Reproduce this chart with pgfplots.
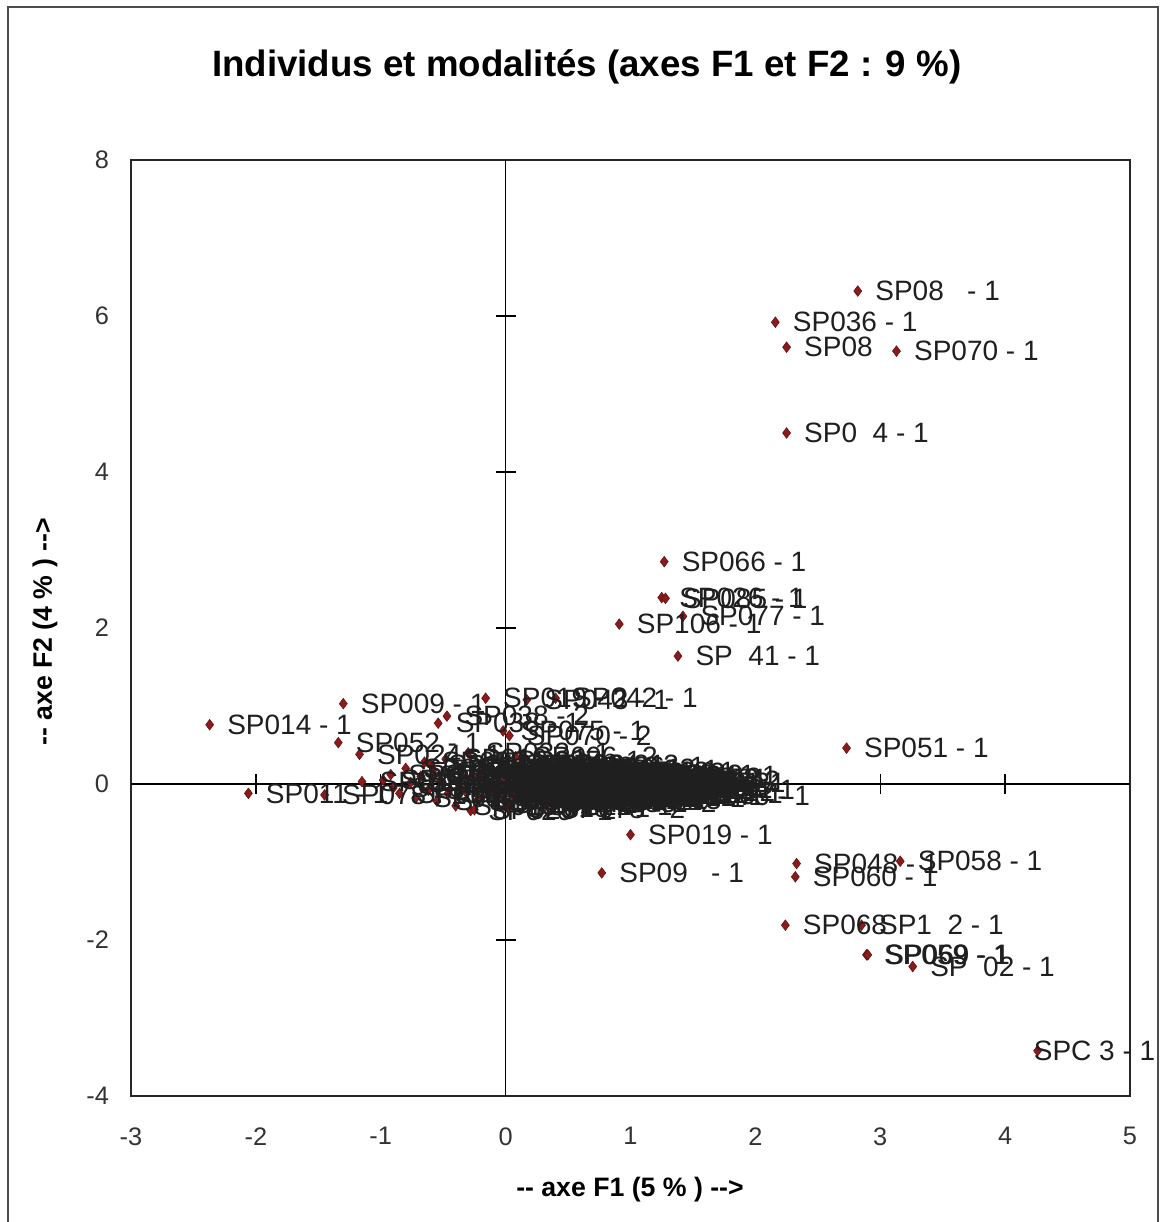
\documentclass[border=0pt]{standalone}
\usepackage{pgfplots}
\usepackage{pgfplotstable}
\pgfplotsset{compat=1.18}
\usepackage{fontspec}
\setmainfont{Liberation Sans}
\definecolor{mk}{RGB}{139,26,26}
\pgfplotstableread[col sep=comma]{
x,y,lab
-0.98,0.05,SP031 - 1
-0.92,0.12,SP027 - 1
-0.90,-0.05,SP044 - 1
-0.85,-0.12,SP061 - 1
-0.80,0.20,SP032 - 1
-0.76,0.02,SP088 - 1
-0.72,-0.18,SP056 - 1
-0.68,0.10,SP017 - 1
-0.65,0.28,SP039 - 1
-0.62,-0.08,SP047 - 1
-0.58,0.18,SP090 - 1
-0.55,-0.22,SP023 - 1
-0.52,0.05,SP064 - 1
-0.48,0.32,SP010 - 1
-0.46,-0.12,SP072 - 1
-0.42,0.15,SP081 - 1
-0.40,-0.28,SP025 - 1
-0.38,0.02,SP097 - 1
-0.35,0.22,SP012 - 1
-0.32,-0.10,SP063 - 1
-0.30,0.40,SP033 - 1
-0.28,-0.34,SP020 - 1
-0.26,0.08,SP079 - 1
-0.22,-0.20,SP104 - 1
-0.20,0.18,SP045 - 1
-0.15,0.02,SP054 - 1
-0.12,-0.08,SP091 - 1
-0.10,0.12,SP016 - 1
-0.08,-0.25,SP107 - 1
-0.05,0.30,SP037 - 1
-0.03,-0.12,SP062 - 1
0.00,0.05,SP083 - 1
0.02,-0.30,SP018 - 1
0.05,0.18,SP049 - 1
0.07,-0.05,SP100 - 1
0.10,0.08,SP015 - 1
0.12,-0.18,SP073 - 1
0.14,0.25,SP096 - 1
0.16,-0.02,SP030 - 1
0.18,0.12,SP087 - 1
0.20,-0.28,SP022 - 1
0.22,0.04,SP057 - 1
0.25,-0.10,SP093 - 1
0.27,0.20,SP035 - 1
0.29,-0.15,SP067 - 1
0.31,0.00,SP001 - 1
0.33,0.10,SP050 - 1
0.35,-0.22,SP098 - 1
0.37,0.15,SP021 - 1
0.40,-0.05,SP074 - 1
0.42,0.06,SP002 - 1
0.44,-0.12,SP055 - 1
0.46,0.22,SP086 - 1
0.48,-0.20,SP028 - 1
0.50,0.02,SP065 - 1
0.52,0.12,SP003 - 1
0.54,-0.08,SP089 - 1
0.57,0.18,SP040 - 1
0.59,-0.16,SP080 - 1
0.61,0.05,SP004 - 1
0.63,-0.02,SP053 - 1
0.66,0.10,SP094 - 1
0.68,-0.12,SP005 - 1
0.70,0.15,SP046 - 1
0.72,-0.06,SP082 - 1
0.75,0.04,SP006 - 1
0.78,-0.18,SP071 - 1
0.80,0.08,SP007 - 1
0.83,-0.04,SP099 - 1
0.86,0.12,SP008 - 1
0.88,-0.10,SP034 - 1
0.90,0.02,SP101 - 1
0.93,-0.15,SP109 - 1
0.96,0.06,SP103 - 1
1.00,-0.06,SP105 - 1
1.04,0.10,SP084 - 1
1.08,-0.12,SP108 - 1
1.12,0.02,SP110 - 1
1.18,-0.08,SP092 - 1
1.30,-0.15,SP076 - 1
-0.60,0.25,SP013 - 1
-0.25,-0.33,SP026 - 2
0.30,-0.32,SP078 - 2
0.03,0.10,SP001 - 2
0.06,-0.14,SP002 - 2
0.09,0.22,SP003 - 2
0.11,-0.02,SP004 - 2
0.13,0.06,SP005 - 2
0.15,-0.22,SP006 - 2
0.19,0.16,SP007 - 2
0.21,-0.08,SP008 - 2
0.23,0.10,SP010 - 2
0.24,-0.18,SP012 - 2
0.26,0.02,SP015 - 2
0.28,0.14,SP016 - 2
0.30,-0.06,SP017 - 2
0.32,-0.24,SP018 - 2
0.34,0.04,SP020 - 2
0.36,-0.14,SP021 - 2
0.38,0.20,SP022 - 2
0.39,-0.02,SP023 - 2
0.41,-0.18,SP025 - 2
0.43,0.12,SP027 - 2
0.45,0.00,SP028 - 2
0.47,-0.08,SP029 - 2
0.49,0.16,SP030 - 2
0.51,-0.14,SP031 - 2
0.53,0.06,SP032 - 2
0.55,-0.24,SP033 - 2
0.56,0.00,SP034 - 2
0.58,0.10,SP035 - 2
0.60,-0.06,SP037 - 2
0.62,0.14,SP039 - 2
0.64,-0.14,SP040 - 2
0.65,0.04,SP044 - 2
0.67,-0.04,SP045 - 2
0.69,0.08,SP046 - 2
0.71,-0.16,SP047 - 2
0.73,0.00,SP049 - 2
0.76,0.12,SP050 - 2
0.77,-0.08,SP053 - 2
0.79,0.02,SP054 - 2
0.81,-0.12,SP055 - 2
0.84,0.06,SP056 - 2
0.87,-0.02,SP057 - 2
0.91,0.08,SP061 - 2
0.94,-0.04,SP062 - 2
0.98,0.02,SP063 - 2
1.02,-0.10,SP064 - 2
1.06,0.04,SP065 - 2
-0.05,0.02,SP067 - 2
-0.08,-0.16,SP071 - 2
-0.11,0.20,SP072 - 2
-0.14,-0.04,SP073 - 2
-0.18,0.08,SP074 - 2
-0.01,-0.20,SP079 - 2
0.01,0.24,SP080 - 2
0.04,-0.08,SP081 - 2
0.08,0.14,SP082 - 2
0.17,-0.12,SP083 - 2
0.25,0.24,SP084 - 2
0.02,0.00,SP086 - 2
0.05,-0.20,SP087 - 2
0.08,0.04,SP088 - 2
0.11,-0.10,SP089 - 2
0.14,0.16,SP090 - 2
0.17,0.02,SP091 - 2
0.20,-0.16,SP093 - 2
0.23,0.08,SP094 - 2
0.26,-0.06,SP097 - 2
0.29,0.06,SP098 - 2
0.32,-0.16,SP099 - 2
0.35,0.12,SP100 - 2
0.38,-0.10,SP101 - 2
0.41,0.02,SP103 - 2
0.44,-0.22,SP104 - 2
0.47,0.10,SP105 - 2
0.50,-0.10,SP107 - 2
0.53,-0.02,SP108 - 2
0.56,0.14,SP110 - 2
0.59,-0.20,SP001 - 3
0.62,0.00,SP002 - 3
0.65,-0.10,SP003 - 3
0.68,0.04,SP004 - 3
0.71,-0.02,SP005 - 3
0.74,-0.12,SP006 - 3
0.77,0.06,SP007 - 3
0.80,-0.06,SP008 - 3
0.83,0.02,SP010 - 3
0.86,-0.14,SP012 - 3
0.89,0.06,SP015 - 3
0.92,-0.06,SP016 - 3
-0.03,0.14,SP017 - 3
-0.06,-0.04,SP018 - 3
-0.09,0.06,SP020 - 3
0.00,-0.10,SP021 - 3
0.12,0.00,SP022 - 3
0.27,-0.20,SP023 - 3
0.34,-0.04,SP025 - 3
0.43,-0.06,SP027 - 3
0.52,0.04,SP028 - 3
-2.06,-0.12,SP011 - 1
-1.45,-0.14,SP078 - 1
-1.15,0.03,SP029 - 1
-1.17,0.38,SP024 - 1
-1.34,0.53,SP052 - 1
-2.37,0.76,SP014 - 1
-1.30,1.03,SP009 - 1
-0.16,1.10,SP019 - 2
0.17,1.08,SP043 - 1
0.40,1.10,SP042 - 1
-0.47,0.87,SP038 - 2
-0.54,0.78,SP038 - 1
-0.02,0.68,SP075 - 1
0.03,0.62,SP070 - 2
0.08,0.35,SP096 - 2
2.82,6.32,SP08\ \ \ - 1
2.16,5.92,SP036 - 1
2.25,5.60,SP08
3.13,5.55,SP070 - 1
2.25,4.50,SP0\ \ 4 - 1
1.27,2.85,SP066 - 1
1.25,2.39,SP026 - 1
1.28,2.38,SP085 - 1
0.91,2.05,SP106 - 1
1.42,2.15,SP077 - 1
1.38,1.64,SP\ \ 41 - 1
2.73,0.46,SP051 - 1
1.00,-0.65,SP019 - 1
0.77,-1.14,SP09\ \ \ - 1
2.33,-1.02,SP048 - 1
3.16,-0.99,SP058 - 1
2.32,-1.19,SP060 - 1
2.24,-1.81,SP068
2.85,-1.81,SP1\ \ 2 - 1
2.89,-2.19,SP059 - 1
2.90,-2.19,SP069 - 1
3.26,-2.34,SP\ \ 02 - 1
}\pts
\pgfplotstableread[col sep=comma]{
x,y,lab
4.26,-3.42,SPC\ 3 - 1
}\ptsedge
\begin{document}
\begin{tikzpicture}
\path[use as bounding box] (0pt,0pt) rectangle (871.5pt,916.5pt);
\draw[line width=1.5pt, black!70] (6pt,-5pt) rectangle (868.5pt,911.25pt);
\node[font=\fontsize{27.5}{31}\selectfont\bfseries] at (440pt,866pt) {Individus et modalités (axes F1 et F2 : 9 \%)};
\node[font=\fontsize{20}{24}\selectfont\bfseries] at (472.5pt,24pt) {-{}- axe F1 (5 \% ) -{}->};
\node[font=\fontsize{20}{24}\selectfont\bfseries, rotate=90] at (33.75pt,442.5pt) {-{}- axe F2 (4 \% ) -{}->};
\begin{axis}[
  at={(98.25pt,94.5pt)}, anchor=south west,
  width=749.25pt, height=702pt, scale only axis,
  xmin=-3, xmax=5, ymin=-4, ymax=8,
  xtick={-3,...,5}, ytick={-4,-2,...,8},
  major tick length=0pt,
  axis line style={line width=1.3pt, black!85},
  /pgf/number format/assume math mode=true,
  tick label style={font=\fontsize{19}{22}\selectfont, text=black!80},
  xticklabel style={yshift=-20pt},
  yticklabel style={xshift=-13pt},
  clip=false,
  mks/.style={only marks, mark=diamond*, mark size=4pt,
    mark options={fill=mk, draw=mk!70!black, line width=0.4pt}},
  lbl/.style={draw=none, mark=none,
    point meta=explicit symbolic,
    nodes near coords={\pgfplotspointmeta},
    every node near coord/.append style={anchor=west, inner sep=0pt, xshift=13pt,
       font=\fontsize{21}{24}\selectfont, text=black!88}},
]
\draw[line width=1.1pt] (axis cs:-3,0) -- (axis cs:5,0);
\draw[line width=1.1pt] (axis cs:0,-4) -- (axis cs:0,8);
\addplot[only marks, mark=|, mark size=7.5pt, line width=1.1pt] coordinates {(-2,0)(-1,0)(1,0)(2,0)(3,0)(4,0)};
\addplot[only marks, mark=-, mark size=7.5pt, line width=1.1pt] coordinates {(0,-2)(0,2)(0,4)(0,6)};
\addplot[mks] table[x=x, y=y] {\pts};
\addplot[mks] table[x=x, y=y] {\ptsedge};
\addplot[lbl] table[x=x, y=y, meta=lab] {\pts};
\addplot[lbl, every node near coord/.append style={xshift=-16pt}] table[x=x, y=y, meta=lab] {\ptsedge};
\end{axis}
\end{tikzpicture}
\end{document}
